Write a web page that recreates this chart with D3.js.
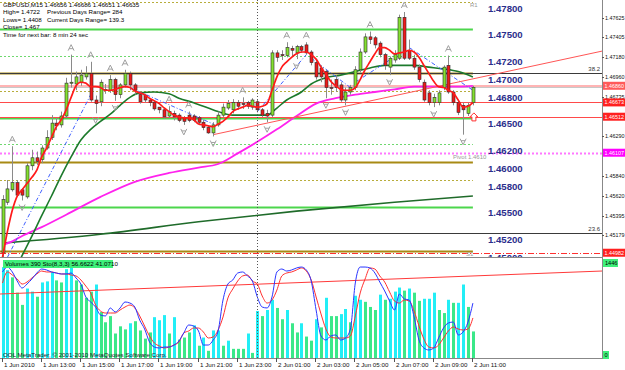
<!DOCTYPE html>
<html>
<head>
<meta charset="utf-8">
<script src="https://cdnjs.cloudflare.com/ajax/libs/d3/7.8.5/d3.min.js"></script>
<style>
body{margin:0;background:#fff}
svg{display:block}
text{font-family:"Liberation Sans",Arial,sans-serif}
</style>
</head>
<body>
<svg id="chart" width="625" height="370"></svg>
<script>
// GBPUSD M15, bar 0 = 1 Jun 2010 11:00 ... bar 96 = 2 Jun 2010 11:00
var opens = [1.4498,1.4555,1.4569,1.4577,1.4569,1.4561,1.4596,1.4605,1.4603,1.4616,
	1.4628,1.4644,1.4642,1.4652,1.4689,1.4688,1.4690,1.4696,1.4700,1.4670,
	1.4668,1.4681,1.4681,1.4693,1.4676,1.4687,1.4700,1.4687,1.4676,1.4675,
	1.4670,1.4667,1.4662,1.4659,1.4652,1.4655,1.4653,1.4650,1.4653,1.4652,
	1.4650,1.4645,1.4639,1.4633,1.4642,1.4653,1.4661,1.4659,1.4667,1.4666,
	1.4667,1.4662,1.4668,1.4659,1.4655,1.4653,1.4723,1.4721,1.4720,1.4728,
	1.4723,1.4730,1.4732,1.4724,1.4712,1.4706,1.4702,1.4684,1.4693,1.4687,
	1.4670,1.4679,1.4684,1.4704,1.4724,1.4741,1.4740,1.4734,1.4721,1.4707,
	1.4715,1.4717,1.4763,1.4726,1.4717,1.4707,1.4690,1.4678,1.4667,1.4667,
	1.4684,1.4709,1.4679,1.4667,1.4664,1.4655,1.4667]
var highs = [1.4563,1.4580,1.4618,1.4580,1.4571,1.4599,1.4614,1.4612,1.4619,1.4636,
	1.4653,1.4650,1.4657,1.4695,1.4721,1.4702,1.4704,1.4708,1.4713,1.4675,
	1.4693,1.4688,1.4698,1.4695,1.4689,1.4704,1.4702,1.4689,1.4679,1.4677,
	1.4672,1.4670,1.4662,1.4660,1.4663,1.4658,1.4655,1.4652,1.4657,1.4654,
	1.4652,1.4648,1.4641,1.4645,1.4657,1.4666,1.4670,1.4671,1.4670,1.4673,
	1.4669,1.4672,1.4671,1.4661,1.4659,1.4726,1.4726,1.4726,1.4735,1.4731,
	1.4732,1.4732,1.4735,1.4726,1.4715,1.4709,1.4704,1.4693,1.4698,1.4690,
	1.4684,1.4687,1.4708,1.4728,1.4745,1.4747,1.4742,1.4736,1.4723,1.4719,
	1.4726,1.4766,1.4769,1.4738,1.4721,1.4710,1.4693,1.4681,1.4677,1.4681,
	1.4709,1.4720,1.4681,1.4670,1.4667,1.4667,1.4686]
var lows = [1.4493,1.4552,1.4567,1.4561,1.4557,1.4559,1.4591,1.4597,1.4599,1.4614,
	1.4625,1.4636,1.4639,1.4650,1.4684,1.4681,1.4686,1.4693,1.4668,1.4655,
	1.4663,1.4677,1.4678,1.4669,1.4672,1.4684,1.4681,1.4676,1.4666,1.4667,
	1.4663,1.4658,1.4655,1.4649,1.4650,1.4647,1.4645,1.4642,1.4645,1.4645,
	1.4642,1.4636,1.4632,1.4629,1.4640,1.4651,1.4659,1.4655,1.4659,1.4660,
	1.4660,1.4659,1.4656,1.4651,1.4645,1.4651,1.4713,1.4715,1.4718,1.4719,
	1.4716,1.4723,1.4721,1.4709,1.4693,1.4690,1.4672,1.4676,1.4679,1.4668,
	1.4664,1.4676,1.4681,1.4701,1.4722,1.4733,1.4728,1.4718,1.4704,1.4698,
	1.4712,1.4715,1.4715,1.4715,1.4704,1.4690,1.4668,1.4664,1.4662,1.4664,
	1.4681,1.4677,1.4664,1.4653,1.4631,1.4652,1.4664]
var closes = [1.4558,1.4570,1.4577,1.4563,1.4563,1.4596,1.4605,1.4601,1.4616,1.4628,
	1.4644,1.4641,1.4652,1.4689,1.4690,1.4696,1.4698,1.4700,1.4670,1.4666,
	1.4690,1.4682,1.4693,1.4676,1.4687,1.4700,1.4687,1.4681,1.4668,1.4670,
	1.4667,1.4660,1.4659,1.4651,1.4657,1.4651,1.4647,1.4646,1.4647,1.4647,
	1.4645,1.4639,1.4633,1.4642,1.4653,1.4662,1.4666,1.4667,1.4663,1.4665,
	1.4663,1.4670,1.4659,1.4653,1.4652,1.4723,1.4718,1.4720,1.4729,1.4726,
	1.4730,1.4726,1.4723,1.4712,1.4696,1.4696,1.4684,1.4683,1.4684,1.4670,
	1.4679,1.4684,1.4704,1.4724,1.4741,1.4738,1.4732,1.4721,1.4709,1.4717,
	1.4721,1.4763,1.4717,1.4717,1.4707,1.4693,1.4670,1.4667,1.4673,1.4678,
	1.4707,1.4679,1.4667,1.4656,1.4659,1.4664,1.4684]
var volumes = [1369,1323,1215,984,800,1046,1000,923,1138,1154,
	1292,1169,1138,1338,1415,1169,1107,907,1000,1107,
	692,538,631,369,477,431,523,554,415,292,
	385,615,569,646,369,615,277,308,385,492,
	185,308,108,415,415,185,261,138,138,138,
	369,77,707,631,723,877,754,584,723,523,
	385,523,323,261,584,461,907,631,631,661,
	738,538,938,877,846,769,723,954,877,892,
	1000,1061,1015,1046,984,861,892,892,984,723,
	677,877,831,831,1107,769,400]
// c = cyan bar, g = green bar
var volumeKinds = 'ccgggccgcccggccggggcggggggcggggcccgcgggcgcgccgcgggcgcgccggcggcggcgcggccgccgggcgcccgcggcccggcgccgg'
var stoMain = [89.5,94.7,89.5,80,72.6,76.8,82.1,88.4,92.6,91.6,
	89.5,88.4,87.4,87.4,88.4,83.2,76.8,63.2,57.9,52.6,
	44.2,43.2,51.6,47.4,51.6,57.9,56.8,52.6,38.9,29.5,
	15.8,10.5,9.5,10.5,10.5,12.6,16.8,25.3,33.7,32.6,
	27.4,12.6,12.6,17.9,27.4,60,76.8,81.1,88.4,89.5,
	85.3,80,63.2,52.6,51.6,63.2,89.5,92.6,90.5,91.6,
	93.7,94.7,91.6,80,49.5,22.1,17.9,22.1,23.2,17.9,
	20,29.5,77.9,94.7,94.7,93.7,88.4,78.9,69.5,58.9,
	49.5,66.3,61.1,60,42.1,17.9,9.5,7.4,9.5,20,
	30.5,35.8,36.8,23.2,26.3,36.8,56.7]
var stoSignal = [77.9,89.5,86.3,82.1,76.8,78.9,83.2,87.4,90.5,89.5,
	89.5,88.4,87.4,87.4,86.3,85.3,81.1,74.7,67.4,54.7,
	48.4,46.3,46.3,46.3,49.5,52.6,54.7,51.6,43.2,32.6,
	22.1,14.7,11.6,9.5,10.5,12.6,15.8,25.3,27.4,30.5,
	30.5,26.3,20,21.1,28.4,42.1,62.1,71.6,80,85.3,
	86.3,80,76.8,64.2,56.8,60,70.5,85.3,88.4,89.5,
	91.6,93.7,90.5,81.1,63.2,45.3,29.5,21.1,20,20,
	20,22.1,43.2,67.4,82.1,93.7,92.6,85.3,78.9,68.4,
	58.9,56.8,60,58.9,48.4,32.6,18.9,10.5,9.5,12.6,
	20,27.4,31.6,29.5,28.4,29.5,41.1]
var emaFast = [1.4493,1.4522,1.4546,1.4562,1.4569,1.4576,1.4583,1.4591,1.4606,1.4616,
	1.4628,1.4640,1.4648,1.4659,1.4673,1.4686,1.4690,1.4689,1.4685,1.4685,
	1.4684,1.4681,1.4681,1.4682,1.4684,1.4685,1.4684,1.4680,1.4678,1.4676,
	1.4672,1.4669,1.4666,1.4661,1.4657,1.4653,1.4651,1.4650,1.4650,1.4648,
	1.4643,1.4642,1.4641,1.4640,1.4643,1.4646,1.4651,1.4657,1.4660,1.4662,
	1.4664,1.4663,1.4662,1.4663,1.4666,1.4681,1.4696,1.4707,1.4713,1.4718,
	1.4722,1.4724,1.4724,1.4721,1.4716,1.4707,1.4699,1.4691,1.4686,1.4682,
	1.4681,1.4681,1.4684,1.4693,1.4704,1.4713,1.4722,1.4729,1.4729,1.4726,
	1.4722,1.4723,1.4724,1.4726,1.4724,1.4718,1.4709,1.4700,1.4691,1.4685,
	1.4684,1.4681,1.4678,1.4670,1.4662,1.4663,1.4667]
// [bar, price] read at a few bars
var maMid = [[3,1.4484],[5,1.4506],[6,1.4517],[8,1.4540],[10,1.4562],[12,1.4585],[14,1.4606],[16,1.4625],
	[18,1.4637],[20,1.4646],[22,1.4654],[24,1.4664],[26,1.4673],[28,1.4678],[31,1.4679],[34,1.4677],
	[36,1.4672],[39,1.4667],[42,1.4661],[44,1.4657],[47,1.4653],[50,1.4653],[54,1.4653],[56,1.4661],
	[58,1.4670],[61,1.4679],[63,1.4688],[66,1.4695],[69,1.4698],[72,1.4702],[75,1.4706],[78,1.4709],
	[81,1.4709],[84,1.4709],[87,1.4707],[90,1.4705],[93,1.4702],[96,1.4696]]
var maSlow = [[0,1.4507],[2,1.4511],[4,1.4517],[8,1.4527],[13,1.4541],[20,1.4561],[27,1.4578],[34,1.4588],
	[40,1.4594],[44,1.4598],[48,1.4610],[52,1.4623],[56,1.4637],[60,1.4652],[64,1.4666],[68,1.4672],
	[72,1.4676],[76,1.4679],[80,1.4682],[84,1.4685],[88,1.4685],[92,1.4685],[96,1.4686]]
var ma200 = [[0,1.4509],[20,1.4519],[40,1.4533],[60,1.4545],[80,1.4555],[96,1.4562]]
var channel = [[[1,1.4493],[18,1.4676]],[[26,1.4684],[43,1.4643]],[[52,1.4657],[62,1.4721]],
	[[63,1.4717],[71,1.4684]],[[72,1.4690],[79,1.4715]],[[83,1.4729],[96,1.4681]]]
var trendMain = [[43,1.4631],[122.35,1.4725]]
var trendSto = [[-0.5,66.3],[122.35,90.5]]
var fractalUp = [2,14,18,22,25,34,38,49,58,62,75,82,91]
var fractalDown = [4,19,23,37,43,54,60,66,70,79,88,94]
var buySignals = [[96,1.4651]]

var roundLevels = [1.478,1.475,1.472,1.470,1.468,1.465,1.462,1.460,1.458,1.455,1.452,1.450]
var greenLevels = [1.475,1.465,1.455]
var oliveLevels = [1.470,1.460,1.450]
var dotGreenLevels = [1.472,1.462,1.452]
var dotOliveLevels = [1.478,1.468,1.458]
var fibLevels = [1.4700,1.4520]
var fibNames = ['38.2','23.6']
var pinkLevel = 1.46860
var redLevels = [1.46673,1.46512]
var pivotLevel = 1.46107
var supportLevel = 1.44982
var axisTicks = [1.47625,1.47405,1.47180,1.46960,1.46735,1.46290,1.45840,1.45620,1.45395,1.45179]
var redBoxes = [1.46860,1.46673,1.46512,1.44982]
var timeTicks = [0,8,16,24,32,40,48,56,64,72,80,88,96]
var timeLabels = ['1 Jun 2010','1 Jun 13:00','1 Jun 15:00','1 Jun 17:00','1 Jun 19:00','1 Jun 21:00',
	'1 Jun 23:00','2 Jun 01:00','2 Jun 03:00','2 Jun 05:00','2 Jun 07:00','2 Jun 09:00','2 Jun 11:00']
var dayStart = 52
var headerLines = ['GBPUSD,M15  1.46656 1.46686 1.46651 1.46635','High= 1.4722','Lows= 1.4408','Close= 1.467','Time for next bar: 8 min 24 sec']
var headerRight = ['','Previous Days Range= 284','Current Days Range= 139.3','','']

var plotRight = 602,
	mainBottom = 257,
	subTop = 259,
	subBottom = 358
var svg = d3.select('#chart')
var x = d3.scaleLinear().domain([0,96]).range([2.5,472.9])
var y = d3.scaleLinear().domain([1.44934,1.47825]).range([mainBottom,0])
var yVol = d3.scaleLinear().domain([0,1446]).range([subBottom,262])
var ySto = d3.scaleLinear().domain([0,100]).range([357,262])
var f5 = d3.format('.5f')

var defs = svg.append('defs')
defs.append('clipPath').attr('id','clipMain').append('rect')
	.attr('x',0).attr('y',0).attr('width',plotRight).attr('height',mainBottom)
defs.append('clipPath').attr('id','clipSub').append('rect')
	.attr('x',0).attr('y',subTop).attr('width',plotRight).attr('height',subBottom-subTop)

var main = svg.append('g').attr('clip-path','url(#clipMain)')
var sub = svg.append('g').attr('clip-path','url(#clipSub)')

function hLines(g,data,x2,color,width,dash) {
	g.append('g').selectAll('line')
		.data(data)
		.enter().append('line')
		.attr('x1',0)
		.attr('x2',x2)
		.attr('y1',function(d){ return Math.round(y(d))+0.5 })
		.attr('y2',function(d){ return Math.round(y(d))+0.5 })
		.style('stroke',color)
		.style('stroke-width',width)
		.style('stroke-dasharray',dash || null)
}

// level lines
var lvlEnd = x(96)
hLines(main,dotOliveLevels,lvlEnd,'#b8ad3c',1,'2,2')
hLines(main,dotGreenLevels,lvlEnd,'#6fd86f',1,'2,2')
hLines(main,greenLevels,lvlEnd,'#4cd64c',2)
hLines(main,oliveLevels,lvlEnd,'#a88a14',2)
hLines(main,[pinkLevel],plotRight,'#ffb4b4',3)
hLines(main,[pinkLevel - 0.00014],plotRight,'#c8c8c8',1)
hLines(main,redLevels,plotRight,'#ff4a4a',1)
hLines(main,[pivotLevel],plotRight,'#ff77ff',2,'2,2')
hLines(main,[supportLevel],plotRight,'#ff3030',1,'6,2,1,2')
hLines(main,fibLevels,plotRight,'#3a3a3a',1)

main.selectAll('.fib-label')
	.data(fibLevels)
	.enter().append('text')
	.attr('x',plotRight-2)
	.attr('y',function(d){ return y(d)-2 })
	.attr('text-anchor','end')
	.style('font-size','6px')
	.style('fill','#333')
	.text(function(d,i){ return fibNames[i] })

// day separator
svg.append('line')
	.attr('x1',Math.round(x(dayStart))+0.5).attr('x2',Math.round(x(dayStart))+0.5)
	.attr('y1',0).attr('y2',subBottom)
	.style('stroke','#555')
	.style('stroke-dasharray','1,2')

// long averages
var pairLine = d3.line()
	.x(function(d){ return x(d[0]) })
	.y(function(d){ return y(d[1]) })
	.curve(d3.curveMonotoneX)
main.append('path').datum(ma200).attr('d',pairLine)
	.style('fill','none').style('stroke','#1f6b2a').style('stroke-width',1.6)
main.append('path').datum(maSlow).attr('d',pairLine)
	.style('fill','none').style('stroke','#ff22ee').style('stroke-width',1.8)
main.append('path').datum(maMid).attr('d',pairLine)
	.style('fill','none').style('stroke','#1d7a2c').style('stroke-width',1.6)

// channel segments
main.selectAll('.channel')
	.data(channel)
	.enter().append('path')
	.attr('d',d3.line().x(function(d){ return x(d[0]) }).y(function(d){ return y(d[1]) }))
	.style('fill','none')
	.style('stroke','#4060ff')
	.style('stroke-width',1)
	.style('stroke-dasharray','4,2,1,2')

// red trendline
main.append('path').datum(trendMain)
	.attr('d',d3.line().x(function(d){ return x(d[0]) }).y(function(d){ return y(d[1]) }))
	.style('fill','none').style('stroke','#ff5555').style('stroke-width',1)

// candles
var bars = d3.range(opens.length)
var candle = main.append('g').selectAll('g')
	.data(bars)
	.enter().append('g')
candle.append('line')
	.attr('x1',function(i){ return Math.round(x(i))+0.5 })
	.attr('x2',function(i){ return Math.round(x(i))+0.5 })
	.attr('y1',function(i){ return y(highs[i]) })
	.attr('y2',function(i){ return y(lows[i]) })
	.style('stroke','#8a8a8a')
	.style('stroke-width',1)
candle.append('rect')
	.attr('x',function(i){ return Math.round(x(i))-1 })
	.attr('y',function(i){ return y(Math.max(opens[i],closes[i])) })
	.attr('width',3)
	.attr('height',function(i){ return Math.max(1,Math.abs(y(opens[i])-y(closes[i]))) })
	.style('fill',function(i){
		if (closes[i] > opens[i]) return '#84e030'
		if (closes[i] < opens[i]) return '#ee1a1a'
		return '#888'
	})
	.style('stroke','#2a2a2a')
	.style('stroke-width',0.6)

// fast ema
main.append('path').datum(emaFast)
	.attr('d',d3.line().x(function(d,i){ return x(i) }).y(function(d){ return y(d) }).curve(d3.curveMonotoneX))
	.style('fill','none').style('stroke','#ff1a1a').style('stroke-width',1.7)

// fractals
main.selectAll('.fup')
	.data(fractalUp)
	.enter().append('path')
	.attr('transform',function(i){ return 'translate('+x(i)+','+(y(highs[i])-7)+')' })
	.attr('d','M-3,3L0,-3L3,3M-2,1H2')
	.style('fill','none').style('stroke','#a0a0a0').style('stroke-width',1)
main.selectAll('.fdn')
	.data(fractalDown)
	.enter().append('path')
	.attr('transform',function(i){ return 'translate('+x(i)+','+(y(lows[i])+7)+')' })
	.attr('d','M-3,-3L0,3L3,-3M-2,-1H2')
	.style('fill','none').style('stroke','#a0a0a0').style('stroke-width',1)

main.selectAll('.buy')
	.data(buySignals)
	.enter().append('path')
	.attr('transform',function(d){ return 'translate('+(x(d[0])+1)+','+y(d[1])+')' })
	.attr('d','M0,-4L4,0H2V4H-2V0H-4Z')
	.style('fill','#fff').style('stroke','#ff3030').style('stroke-width',1)

// round number labels
main.selectAll('.round')
	.data(roundLevels)
	.enter().append('text')
	.attr('x',488)
	.attr('y',function(d){ return y(d)+9.5 })
	.style('font-size','9.6px')
	.style('font-weight','bold')
	.style('fill','#2b2e8c')
	.text(function(d){ return f5(d) })

main.append('text').attr('x',470).attr('y',7).style('font-size','6px').style('fill','#999').text('R1')
main.append('text').attr('x',453).attr('y',y(pivotLevel)+6).style('font-size','6px').style('fill','#999').text('Pivot  1.4610')
main.append('text').attr('x',466).attr('y',256).style('font-size','6px').style('fill','#999').text('S1')

// header
svg.selectAll('.hdr')
	.data(headerLines)
	.enter().append('text')
	.attr('x',3)
	.attr('y',function(d,i){ return 7+i*7.4 })
	.style('font-size','6.2px')
	.style('fill','#000')
	.text(function(d){ return d })
svg.selectAll('.hdr2')
	.data(headerRight)
	.enter().append('text')
	.attr('x',47)
	.attr('y',function(d,i){ return 7+i*7.4 })
	.style('font-size','6.2px')
	.style('fill','#000')
	.text(function(d){ return d })

// indicator window: volumes + stochastic
sub.selectAll('.vol')
	.data(volumes)
	.enter().append('rect')
	.attr('x',function(d,i){ return Math.round(x(i))-1 })
	.attr('y',function(d){ return yVol(d) })
	.attr('width',3)
	.attr('height',function(d){ return subBottom-yVol(d) })
	.style('fill',function(d,i){ return volumeKinds[i] === 'c' ? '#22eef6' : '#3be889' })

sub.append('path').datum(trendSto)
	.attr('d',d3.line().x(function(d){ return x(d[0]) }).y(function(d){ return ySto(d[1]) }))
	.style('fill','none').style('stroke','#ff3a3a').style('stroke-width',1)
sub.append('path').datum(stoSignal)
	.attr('d',d3.line().x(function(d,i){ return x(i) }).y(function(d){ return ySto(d) }).curve(d3.curveMonotoneX))
	.style('fill','none').style('stroke','#ff3030').style('stroke-width',1)
sub.append('path').datum(stoMain)
	.attr('d',d3.line().x(function(d,i){ return x(i) }).y(function(d){ return ySto(d) }).curve(d3.curveMonotoneX))
	.style('fill','none').style('stroke','#2a35ff').style('stroke-width',1)

sub.append('rect').attr('x',3).attr('y',260).attr('width',110).attr('height',8).style('fill','#3ef07a')
sub.append('text').attr('x',5).attr('y',266.2).style('font-size','6.2px').style('fill','#000')
	.text('Volumes 390  Sto(8,3,3) 56.6622 41.0710')
sub.append('text').attr('x',3).attr('y',357).style('font-size','6.2px').style('fill','#222')
	.text('OOL MetaTrader, \u00a9 2001-2010 MetaQuotes Software Corp.')

// frames
svg.append('line').attr('x1',0).attr('x2',plotRight).attr('y1',mainBottom+0.5).attr('y2',mainBottom+0.5).style('stroke','#888')
svg.append('line').attr('x1',0).attr('x2',plotRight).attr('y1',subBottom+0.5).attr('y2',subBottom+0.5).style('stroke','#888')
svg.append('line').attr('x1',plotRight+0.5).attr('x2',plotRight+0.5).attr('y1',0).attr('y2',subBottom+1).style('stroke','#888')

// price axis
var axisG = svg.append('g')
axisG.selectAll('line')
	.data(axisTicks)
	.enter().append('line')
	.attr('x1',plotRight).attr('x2',plotRight+2)
	.attr('y1',function(d){ return Math.round(y(d))+0.5 })
	.attr('y2',function(d){ return Math.round(y(d))+0.5 })
	.style('stroke','#555')
axisG.selectAll('text')
	.data(axisTicks)
	.enter().append('text')
	.attr('x',plotRight+3)
	.attr('y',function(d){ return y(d)+2 })
	.style('font-size','5.4px')
	.style('fill','#111')
	.text(function(d){ return f5(d) })

var boxG = svg.append('g')
function priceBox(level,fill) {
	boxG.append('rect').attr('x',plotRight+1).attr('y',y(level)-4).attr('width',22).attr('height',8).style('fill',fill)
	boxG.append('text').attr('x',plotRight+2.5).attr('y',y(level)+2).style('font-size','5.4px').style('fill','#fff').text(f5(level))
}
redBoxes.forEach(function(d,i){ priceBox(d,i === 0 ? '#ff5a5a' : '#ff2020') })
priceBox(pivotLevel,'#ff00ff')

boxG.append('rect').attr('x',plotRight+1).attr('y',259).attr('width',15).attr('height',8).style('fill','#3ef07a')
boxG.append('text').attr('x',plotRight+3).attr('y',265.2).style('font-size','5.6px').style('fill','#000').text('1446')
boxG.append('rect').attr('x',plotRight+1).attr('y',351).attr('width',6).attr('height',8).style('fill','#3ef07a')
boxG.append('text').attr('x',plotRight+2.5).attr('y',357.2).style('font-size','5.6px').style('fill','#000').text('0')

// time axis
var timeG = svg.append('g')
timeG.selectAll('line')
	.data(timeTicks)
	.enter().append('line')
	.attr('x1',function(d){ return Math.round(x(d))-0.5 })
	.attr('x2',function(d){ return Math.round(x(d))-0.5 })
	.attr('y1',subBottom).attr('y2',subBottom+4)
	.style('stroke','#555')
timeG.selectAll('text')
	.data(timeTicks)
	.enter().append('text')
	.attr('x',function(d){ return Math.round(x(d))+1 })
	.attr('y',367)
	.style('font-size','6.2px')
	.style('fill','#111')
	.text(function(d,i){ return timeLabels[i] })
</script>
</body>
</html>
